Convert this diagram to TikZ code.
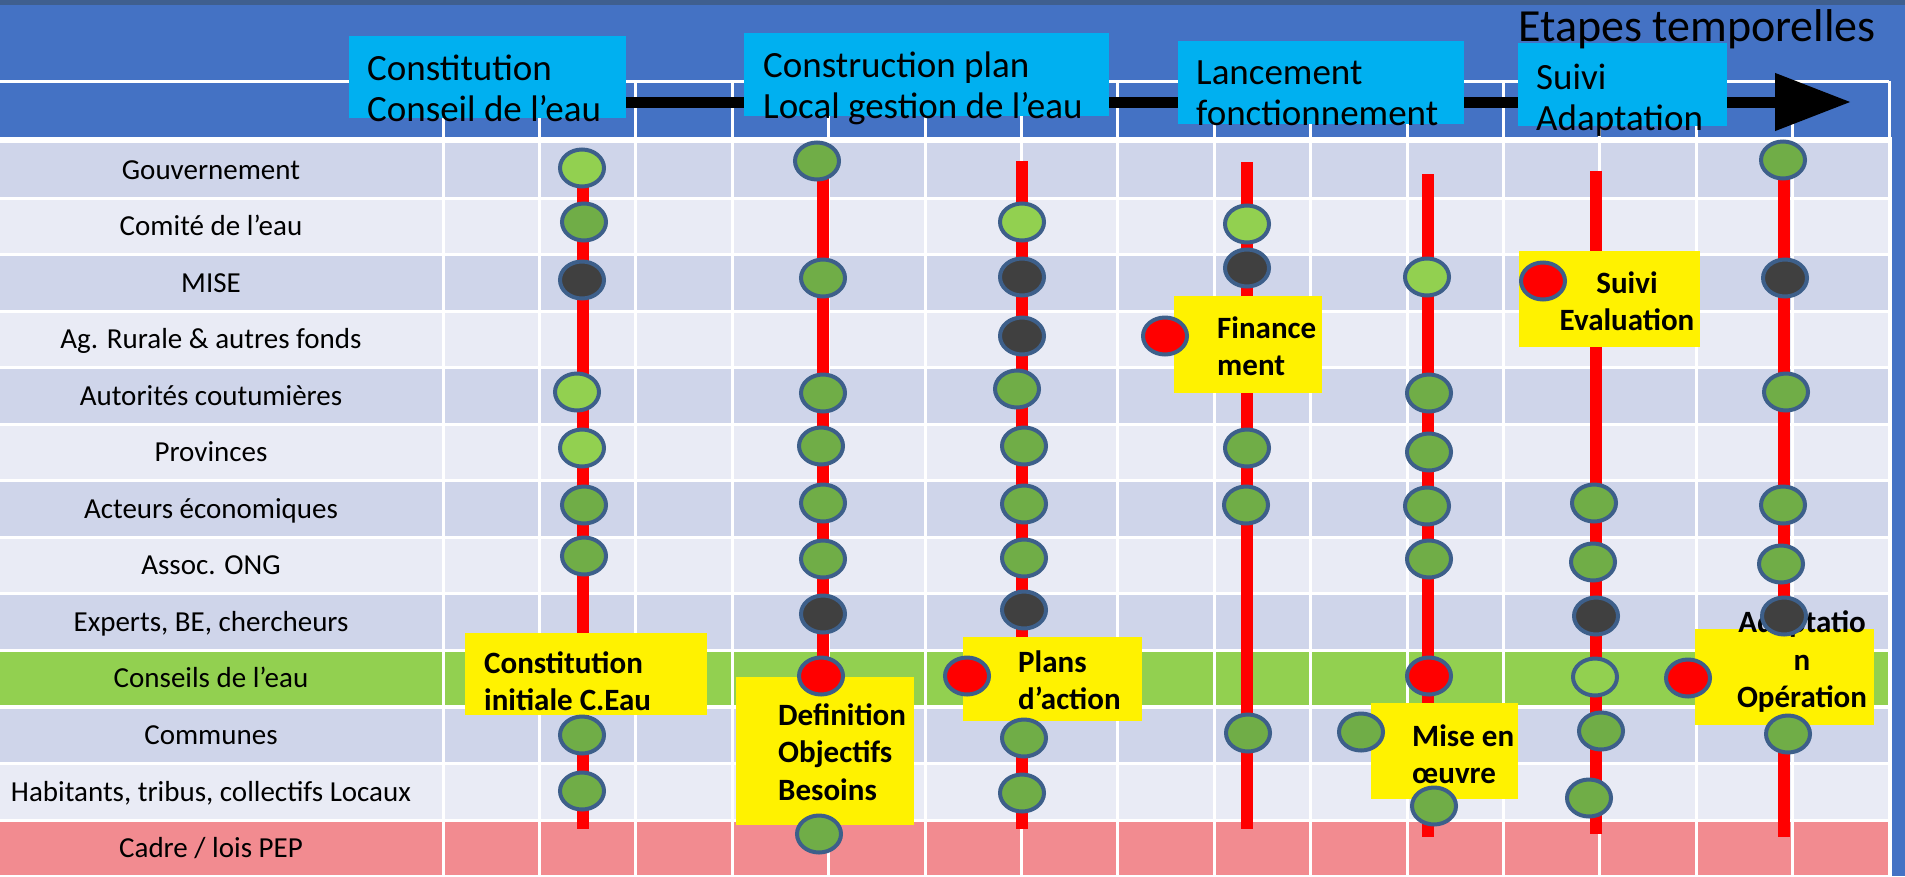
\documentclass[tikz,border=0pt]{standalone}
\usepackage{fontspec}
\setmainfont{Carlito}
\usetikzlibrary{arrows.meta,shapes.geometric,positioning}

\definecolor{fondbleu}{HTML}{4472C4}
\definecolor{bandeau}{HTML}{3F5F8F}
\definecolor{lignefonce}{HTML}{CFD5EA}
\definecolor{ligneclair}{HTML}{E9EBF5}
\definecolor{vertclair}{HTML}{92D050}
\definecolor{vertfonce}{HTML}{70AD47}
\definecolor{grisfonce}{HTML}{404040}
\definecolor{rose}{HTML}{F28B90}
\definecolor{bleuciel}{HTML}{00B0F0}
\definecolor{bord}{HTML}{3D5F8A}

\pgfdeclarelayer{fond}
\pgfdeclarelayer{trait}
\pgfsetlayers{fond,trait,main}

\begin{document}
\begin{tikzpicture}[
  x=1pt, y=-1pt,
  >={Triangle[length=76pt,width=55pt]},
  jalon/.style={ellipse, draw=bord, line width=4pt, minimum width=44pt,
    minimum height=37pt, inner sep=0pt},
  ligne/.style={draw=red, line width=12pt},
  fleche/.style={->, draw=black, line width=11pt},
  grille/.style={draw=white, line width=3pt},
  jaune/.style={rectangle, fill=yellow, inner sep=0pt, anchor=north west},
  jtexte/.style={font=\fontsize{31}{37.5}\selectfont\bfseries, inner sep=0pt, align=left},
  etape/.style={rectangle, fill=bleuciel, inner sep=0pt, anchor=north west},
  etexte/.style={font=\fontsize{37}{41}\selectfont, inner sep=0pt, align=left},
  acteur/.style={font=\fontsize{29}{34}\selectfont, inner sep=0pt, anchor=base}
]
  \useasboundingbox (0,0) rectangle (1905,876);

  % Table: rows of actors
  \begin{pgfonlayer}{fond}
    \fill[fondbleu] (0,0) rectangle (1905,876);
    \fill[bandeau] (0,0) rectangle (1905,5);
    \fill[white] (0,137) rectangle (1892,876);
    \foreach \lab/\coul [count=\i from 0] in {
        Gouvernement/lignefonce, Comité de l’eau/ligneclair, MISE/lignefonce,
        Ag. Rurale \& autres fonds/ligneclair, Autorités coutumières/lignefonce,
        Provinces/ligneclair, Acteurs économiques/lignefonce,
        Assoc. ONG/ligneclair, {Experts, BE, chercheurs}/lignefonce,
        Conseils de l’eau/vertclair, Communes/lignefonce,
        {Habitants, tribus, collectifs Locaux}/ligneclair, {Cadre / lois PEP}/rose}
    {
      \pgfmathsetmacro\yh{143+56.55*\i}
      \fill[\coul] (0,\yh) rectangle (1889,{\yh+53.5});
      \node[acteur] (acteur\i) at (211,{\yh+36}) {\lab};
    }
    \draw[grille] (0,81) -- (1889,81);
    \foreach \k in {0,...,15}
      \draw[grille] ({443+96.4*\k},81) -- ({443+96.4*\k},876);
  \end{pgfonlayer}

  % Time steps (header)
  \node[etape, minimum width=277pt, minimum height=82pt] (e1) at (349,36) {};
  \node[etape, minimum width=365pt, minimum height=83pt] (e2) at (744,33) {};
  \node[etape, minimum width=286pt, minimum height=83pt] (e3) at (1178,41) {};
  \node[etape, minimum width=209pt, minimum height=83pt] (e4) at (1518,43) {};

  \node[etexte, anchor=west] (t1) at (367,88) {Constitution\\Conseil de l’eau};
  \node[etexte, anchor=west] (t2) at (763,88) {Construction plan\\Local gestion de l’eau};
  \node[etexte, anchor=west] (t3) at (1196,93) {Lancement\\fonctionnement};
  \node[etexte, anchor=west] (t4) at (1536,100) {Suivi\\Adaptation};
  \node[font=\fontsize{46}{50}\selectfont, inner sep=0pt, anchor=base west]
    (titre) at (1518,41) {Etapes temporelles};

  \coordinate (pointe) at (1851,102);
  \begin{pgfonlayer}{trait}
    \draw[fleche] (e1.east |- pointe) -- (pointe);
  \end{pgfonlayer}

  % Timelines
  \begin{pgfonlayer}{trait}
    \foreach \x/\h/\b [count=\n] in {583/168/829, 823/161/834, 1022/161/829,
        1247/162/829, 1428/174/837, 1596/171/834, 1784/160/837}
    {
      \coordinate (haut\n) at (\x,\h);
      \coordinate (bas\n) at (\x,\b);
      \draw[ligne] (haut\n) -- (bas\n);
    }
  \end{pgfonlayer}

  % Yellow labels
  \node[jaune, minimum width=242pt, minimum height=82pt] (b1) at (465,633) {};
  \node[jtexte, anchor=west] (bt1) at (484,681) {Constitution\\initiale C.Eau};
  \node[jaune, minimum width=178pt, minimum height=148pt] (b2) at (736,677) {};
  \node[jtexte, anchor=west] (bt2) at (778,752) {Definition\\Objectifs\\Besoins};
  \node[jaune, minimum width=179pt, minimum height=84pt] (b3) at (963,637) {};
  \node[jtexte, anchor=west] (bt3) at (1018,680) {Plans\\d’action};
  \node[jaune, minimum width=148pt, minimum height=97pt] (b4) at (1174,296) {};
  \node[jtexte, anchor=west] (bt4) at (1217,346) {Finance\\ment};
  \node[jaune, minimum width=181pt, minimum height=96pt] (b5) at (1519,251) {};
  \node[jtexte, align=center] (bt5) at (1627,301) {Suivi\\Evaluation};
  \node[jaune, minimum width=147pt, minimum height=96pt] (b6) at (1371,703) {};
  \node[jtexte, anchor=west] (bt6) at (1412,754) {Mise en\\œuvre};
  \node[jaune, minimum width=179pt, minimum height=96pt] (b7) at (1695,629) {};
  \node[jtexte, align=center] (bt7) at (1802,662) {Adaptatio\\n\\Opération};

  % Milestones
  \foreach \x/\y/\c [count=\n] in {
      582/168/vertclair, 584/222/vertfonce, 582/280/grisfonce, 577/392/vertclair,
      582/448/vertclair, 584/505/vertfonce, 584/556/vertfonce, 582/735/vertfonce,
      582/791/vertfonce,
      817/161/vertfonce, 823/278/vertfonce, 823/393/vertfonce, 821/446/vertfonce,
      823/503/vertfonce, 823/559/vertfonce, 823/614/grisfonce, 821/676/red,
      819/834/vertfonce,
      1022/222/vertclair, 1022/277/grisfonce, 1022/336/grisfonce, 1017/389/vertfonce,
      1024/446/vertfonce, 1024/504/vertfonce, 1024/558/vertfonce, 1024/610/grisfonce,
      967/676/red, 1024/738/vertfonce, 1022/793/vertfonce,
      1247/224/vertclair, 1247/268/grisfonce, 1165/336/red, 1247/448/vertfonce,
      1246/505/vertfonce, 1248/733/vertfonce,
      1427/277/vertclair, 1429/393/vertfonce, 1429/452/vertfonce, 1427/506/vertfonce,
      1429/559/vertfonce, 1429/676/red, 1361/732/vertfonce, 1434/806/vertfonce,
      1543/281/red, 1594/503/vertfonce, 1593/562/vertfonce, 1596/616/grisfonce,
      1595/677/vertclair, 1601/731/vertfonce, 1589/798/vertfonce,
      1783/160/vertfonce, 1785/278/grisfonce, 1786/392/vertfonce, 1783/505/vertfonce,
      1781/564/vertfonce, 1784/616/grisfonce, 1688/678/red, 1788/734/vertfonce}
    \node[jalon, fill=\c] (j\n) at (\x,\y) {};
\end{tikzpicture}
\end{document}
